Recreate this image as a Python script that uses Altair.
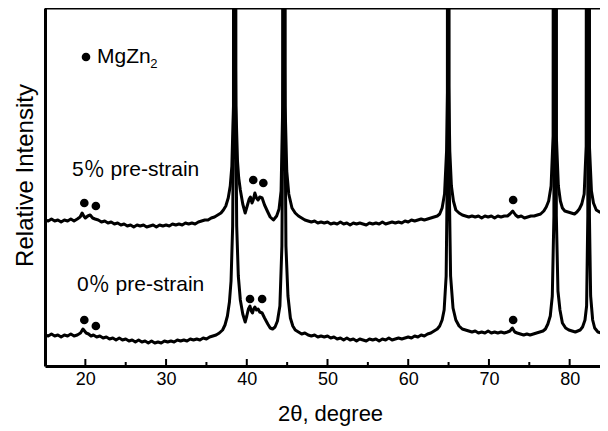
import altair as alt
import pandas as pd

FONT = "Liberation Sans, Arial, Noto Sans CJK SC"

# 2-theta (degree), relative intensity (arb. units)
trace_0 = [(15.0,31),(15.4,30),(15.8,32),(16.2,30),(16.6,31),(17.0,29),(17.4,31),(17.8,30),(18.2,32),(18.6,30),
    (19.0,31),(19.4,33),(19.7,37),(19.9,35),(20.1,33),(20.4,32),(20.7,30),(21.0,31),(21.4,29),(21.8,30),
    (22.2,28),(22.6,29),(23.0,27),(23.4,28),(23.8,26),(24.2,28),(24.6,26),(25.0,27),(25.4,25),(25.8,26),
    (26.2,24),(26.6,26),(27.0,24),(27.4,25),(27.8,23),(28.2,25),(28.6,23),(29.0,24),(29.4,23),(29.8,25),
    (30.2,24),(30.6,25),(31.0,24),(31.4,26),(31.8,25),(32.2,26),(32.6,25),(33.0,27),(33.4,26),(33.8,27),
    (34.2,26),(34.6,28),(35.0,27),(35.4,29),(35.8,30),(36.2,31),(36.6,33),(37.0,36),(37.3,41),(37.6,50),
    (37.85,64),(38.05,85),(38.25,140),(38.4,300),(38.5,3000),(38.6,300),(38.75,140),(38.95,90),(39.2,66),
    (39.5,52),(39.8,44),(40.0,50),(40.2,57),(40.4,60),(40.55,55),(40.7,53),(40.85,57),(41.0,59),(41.2,56),
    (41.4,57),(41.6,54),(41.9,53),(42.2,48),(42.6,42),(42.9,38),(43.2,37),(43.5,39),(43.8,45),(44.1,60),
    (44.35,120),(44.5,300),(44.6,3000),(44.7,300),(44.85,120),(45.1,70),(45.4,48),(45.7,40),(46.0,36),
    (46.4,34),(46.8,32),(47.2,33),(47.6,31),(48.0,30),(48.4,31),(48.8,29),(49.2,30),(49.6,29),(50.0,30),
    (50.4,28),(50.8,29),(51.2,27),(51.6,28),(52.0,26),(52.4,28),(52.8,26),(53.2,27),(53.6,25),(54.0,27),
    (54.4,26),(54.8,25),(55.2,27),(55.6,26),(56.0,27),(56.4,25),(56.8,27),(57.2,26),(57.6,28),(58.0,26),
    (58.4,27),(58.8,28),(59.2,27),(59.6,28),(60.0,29),(60.4,28),(60.8,30),(61.2,29),(61.6,31),(62.0,30),
    (62.4,32),(62.8,33),(63.2,35),(63.6,37),(63.9,40),(64.2,46),(64.45,56),(64.7,90),(64.85,200),
    (64.95,3000),(65.05,200),(65.25,90),(65.55,58),(65.9,46),(66.3,40),(66.7,37),(67.1,36),(67.5,35),
    (67.9,34),(68.3,35),(68.7,33),(69.1,34),(69.5,33),(69.9,35),(70.3,33),(70.7,34),(71.1,33),(71.5,34),
    (71.9,33),(72.3,34),(72.6,35),(72.9,38),(73.2,34),(73.5,33),(73.9,32),(74.3,31),(74.7,32),(75.1,31),
    (75.5,32),(75.9,33),(76.3,34),(76.7,35),(77.0,37),(77.3,42),(77.6,50),(77.85,70),(78.05,150),
    (78.2,3000),(78.35,150),(78.55,75),(78.8,56),(79.1,43),(79.5,38),(79.9,36),(80.3,35),(80.7,34),
    (81.0,35),(81.3,36),(81.6,39),(81.9,46),(82.1,60),(82.25,150),(82.35,3000),(82.45,150),(82.6,70),
    (82.85,46),(83.1,38),(83.5,34),(83.9,33),(84.3,32),(84.75,33)]

trace_5 = [(15.0,146),(15.4,145),(15.8,147),(16.2,145),(16.6,146),(17.0,144),(17.4,146),(17.8,145),
    (18.2,147),(18.6,145),(19.0,147),(19.35,149),(19.6,153),(19.8,150),(20.0,148),(20.3,150),(20.6,151),
    (20.9,148),(21.2,147),(21.6,146),(22.0,144),(22.4,145),(22.8,143),(23.2,144),(23.6,142),(24.0,143),
    (24.4,141),(24.8,142),(25.2,140),(25.6,141),(26.0,139),(26.4,141),(26.8,140),(27.2,141),(27.6,139),
    (28.0,140),(28.4,141),(28.8,139),(29.2,141),(29.6,140),(30.0,141),(30.4,140),(30.8,142),(31.2,141),
    (31.6,142),(32.0,141),(32.4,143),(32.8,142),(33.2,143),(33.6,142),(34.0,144),(34.4,145),(34.8,146),
    (35.2,146),(35.6,148),(36.0,149),(36.4,151),(36.8,153),(37.1,156),(37.4,160),(37.7,168),(37.95,180),
    (38.15,200),(38.35,260),(38.5,3000),(38.65,260),(38.85,205),(39.0,188),(39.2,176),(39.5,162),
    (39.8,153),(40.05,160),(40.3,167),(40.45,169),(40.65,163),(40.8,166),(41.0,173),(41.2,168),(41.4,166),
    (41.6,169),(41.9,168),(42.2,161),(42.6,154),(42.9,149),(43.3,146),(43.7,150),(44.0,157),(44.25,175),
    (44.45,260),(44.6,3000),(44.75,260),(44.95,195),(45.2,172),(45.6,158),(46.0,153),(46.4,150),(46.8,148),
    (47.2,146),(47.6,145),(48.0,144),(48.4,145),(48.8,143),(49.2,144),(49.6,143),(50.0,144),(50.4,142),
    (50.8,143),(51.2,142),(51.6,144),(52.0,142),(52.4,143),(52.8,141),(53.2,143),(53.6,142),(54.0,143),
    (54.4,142),(54.8,141),(55.2,143),(55.6,142),(56.0,143),(56.4,142),(56.8,144),(57.2,142),(57.6,143),
    (58.0,144),(58.4,143),(58.8,144),(59.2,143),(59.6,145),(60.0,144),(60.4,146),(60.8,145),(61.2,146),
    (61.6,147),(62.0,146),(62.4,147),(62.8,148),(63.2,149),(63.6,150),(63.9,152),(64.2,158),(64.5,172),
    (64.75,215),(64.88,280),(64.95,3000),(65.02,280),(65.15,215),(65.35,180),(65.6,165),(65.9,156),
    (66.3,153),(66.7,151),(67.1,150),(67.5,149),(67.9,150),(68.3,149),(68.7,150),(69.1,148),(69.5,150),
    (69.9,149),(70.3,150),(70.7,148),(71.1,150),(71.5,149),(71.9,150),(72.3,150),(72.6,152),(72.95,155),
    (73.3,151),(73.6,149),(74.0,150),(74.4,148),(74.8,149),(75.2,150),(75.6,150),(76.0,151),(76.4,152),
    (76.8,155),(77.1,159),(77.4,165),(77.7,180),(77.95,230),(78.15,3000),(78.35,230),(78.6,180),
    (78.85,165),(79.1,158),(79.4,155),(79.8,154),(80.2,153),(80.6,152),(80.9,154),(81.2,157),(81.5,162),
    (81.8,172),(82.05,220),(82.25,3000),(82.45,220),(82.7,175),(82.95,163),(83.3,156),(83.7,154),
    (84.1,153),(84.5,152),(84.75,153)]

# MgZn2 markers (2-theta, intensity)
dot_x = [20.08, 19.87, 21.3, 40.8, 42.05, 73.0, 19.87, 21.3, 40.4, 41.9, 73.0]
dot_y = [309, 163, 160, 186, 183, 166, 46, 40, 67, 67, 46]

# annotations
label_text = ["MgZn", "5\uff05 pre-strain", "0\uff05 pre-strain"]
label_x = [21.44, 18.35, 18.97]
label_y = [303, 190, 75]
sub_text = ["2"]
sub_x = [28.05]
sub_y = [298]

major_ticks = [20, 30, 40, 50, 60, 70, 80]
minor_ticks = [25, 35, 45, 55, 65, 75]

W, H = 555, 358

rows = [{"x": a, "y": b, "s": "0%"} for a, b in trace_0] + \
       [{"x": a, "y": b, "s": "5%"} for a, b in trace_5]
df = pd.DataFrame(rows)

xs = alt.Scale(domain=[15, 83.76], nice=False, zero=False)
ys = alt.Scale(domain=[0, H], nice=False, zero=False)

lines = alt.Chart(df).mark_line(clip=True, color="black", strokeWidth=3, strokeJoin="round").encode(
    x=alt.X("x:Q", scale=xs, axis=alt.Axis(
        values=major_ticks, format="d", grid=False, ticks=False, tickSize=0,
        labelFontSize=18, labelFont=FONT, labelColor="black", labelBaseline="alphabetic", labelPadding=18,
        domainColor="black", domainWidth=3,
        title="2\u03b8, degree", titleFontSize=22, titleFont=FONT, titleFontWeight="normal",
        titleColor="black", titleX=285, titleY=54, titleBaseline="alphabetic", titleAlign="center")),
    y=alt.Y("y:Q", scale=ys, axis=alt.Axis(
        labels=False, ticks=False, grid=False, domainColor="black", domainWidth=3,
        title="Relative Intensity", titleFontSize=24, titleFont=FONT, titleFontWeight="normal",
        titleColor="black", titleX=-13, titleY=167, titleAngle=270, titleBaseline="alphabetic",
        titleAlign="center")),
    detail="s:N",
)

dots = alt.Chart(pd.DataFrame({"x": dot_x, "y": dot_y})).mark_point(
    filled=True, shape="circle", size=75, color="black", opacity=1).encode(x="x:Q", y="y:Q")

labels = alt.Chart(pd.DataFrame({"x": label_x, "y": label_y, "t": label_text})).mark_text(
    align="left", baseline="alphabetic", fontSize=21, font=FONT, color="black").encode(
    x="x:Q", y="y:Q", text="t:N")

subs = alt.Chart(pd.DataFrame({"x": sub_x, "y": sub_y, "t": sub_text})).mark_text(
    align="left", baseline="alphabetic", fontSize=13, font=FONT, color="black").encode(
    x="x:Q", y="y:Q", text="t:N")

tick_major = alt.Chart(pd.DataFrame({"x": major_ticks})).mark_rule(color="black", strokeWidth=2).encode(
    x="x:Q", y=alt.value(H), y2=alt.value(H - 7))
tick_minor = alt.Chart(pd.DataFrame({"x": minor_ticks})).mark_rule(color="black", strokeWidth=2).encode(
    x="x:Q", y=alt.value(H), y2=alt.value(H - 4))
top_border = alt.Chart(pd.DataFrame({"x": [0]})).mark_rule(color="black", strokeWidth=3).encode(
    x=alt.value(0), x2=alt.value(W), y=alt.value(0))

chart = alt.layer(lines, dots, labels, subs, tick_major, tick_minor, top_border).properties(
    width=W, height=H,
    autosize=alt.AutoSizeParams(type="none"),
    padding={"left": 37, "top": 0, "right": 0, "bottom": 62},
).configure_view(stroke=None).configure(background="white")

chart.save("out.html", embed_options={"renderer": "svg", "actions": False})
